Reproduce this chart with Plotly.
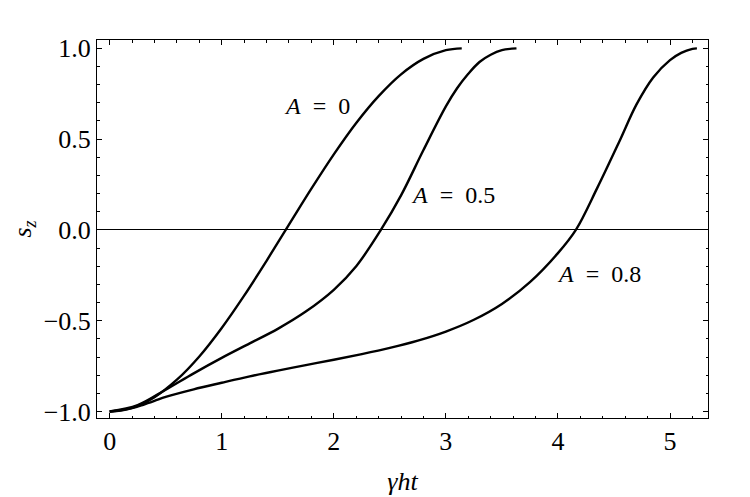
import plotly.graph_objects as go

# Data
t_a0 = [0, 0.2, 0.4, 0.6, 0.8, 1.0, 1.2, 1.4, 1.6, 1.8, 2.0, 2.2, 2.4, 2.6, 2.8, 3.0, 3.1416]
sz_a0 = [-1.0, -0.980, -0.921, -0.825, -0.697, -0.540, -0.362, -0.170, 0.029, 0.227,
         0.416, 0.589, 0.737, 0.857, 0.942, 0.990, 1.0]

t_a05 = [0, 0.25, 0.5, 0.75, 1.0, 1.25, 1.5, 1.75, 2.0, 2.2, 2.42, 2.6, 2.8, 3.0, 3.1, 3.2,
         3.3, 3.4, 3.5, 3.63]
sz_a05 = [-1.0, -0.965, -0.88, -0.79, -0.705, -0.625, -0.545, -0.45, -0.33, -0.2, 0.0,
          0.19, 0.44, 0.68, 0.78, 0.86, 0.925, 0.965, 0.99, 1.0]

t_a08 = [0, 0.1, 0.2, 0.3, 0.4, 0.5, 0.75, 1.0, 1.25, 1.5, 1.75, 2.0, 2.25, 2.5, 2.75, 3.0,
         3.25, 3.5, 3.75, 4.0, 4.16, 4.35, 4.55, 4.7, 4.85, 5.0, 5.1, 5.2, 5.24]
sz_a08 = [-1.0, -0.995, -0.982, -0.963, -0.942, -0.92, -0.878, -0.842, -0.807, -0.775,
          -0.745, -0.715, -0.684, -0.65, -0.61, -0.56, -0.495, -0.408, -0.288, -0.128,
          0.0, 0.23, 0.49, 0.69, 0.84, 0.935, 0.975, 0.997, 1.0]

labels = ["<i>A</i> &nbsp;= &nbsp;0", "<i>A</i> &nbsp;= &nbsp;0.5", "<i>A</i> &nbsp;= &nbsp;0.8"]
label_x = [1.85, 3.06, 4.37]
label_y = [0.68, 0.19, -0.245]

x_ticks = [0, 1, 2, 3, 4, 5]
y_ticks = [-1.0, -0.5, 0.0, 0.5, 1.0]

FONT = "Liberation Serif, Times New Roman, serif"

fig = go.Figure()
for xs, ys in [(t_a0, sz_a0), (t_a05, sz_a05), (t_a08, sz_a08)]:
    fig.add_trace(go.Scatter(x=xs, y=ys, mode="lines",
                             line=dict(color="black", width=2.4, shape="spline", smoothing=1.0),
                             showlegend=False, hoverinfo="skip"))

for txt, lx, ly in zip(labels, label_x, label_y):
    fig.add_annotation(x=lx, y=ly, text=txt, showarrow=False,
                       font=dict(family=FONT, size=24, color="black"))

# the page body adds an 8px offset at left/top; compensate in size/margins
fig.update_layout(
    width=742, height=489,
    margin=dict(l=89, r=42, t=32, b=79),
    paper_bgcolor="white", plot_bgcolor="white",
    font=dict(family=FONT, color="black"),
)
fig.update_xaxes(
    range=[-0.113, 5.339], tickvals=x_ticks, ticktext=[str(v) for v in x_ticks],
    automargin=False,
    showline=True, linecolor="black", linewidth=1, mirror="allticks",
    ticks="inside", ticklen=5, tickwidth=1, tickcolor="black",
    minor=dict(dtick=0.2, tick0=0, ticks="inside", ticklen=2.5, tickwidth=1, tickcolor="black"),
    showgrid=False, zeroline=False,
    tickfont=dict(family=FONT, size=26, color="black"),
    title=dict(text="<i>γht</i>", font=dict(family=FONT, size=26, color="black"), standoff=16),
)
fig.update_yaxes(
    range=[-1.036, 1.046], tickvals=y_ticks, tickformat=".1f",
    automargin=False,
    showline=True, linecolor="black", linewidth=1, mirror="allticks",
    ticks="inside", ticklen=5, tickwidth=1, tickcolor="black",
    minor=dict(dtick=0.1, tick0=0, ticks="inside", ticklen=2.5, tickwidth=1, tickcolor="black"),
    showgrid=False, zeroline=True, zerolinecolor="black", zerolinewidth=1,
    tickfont=dict(family=FONT, size=26, color="black"),
    title=dict(text="<i>s</i><sub><i>z</i></sub>", font=dict(family=FONT, size=26, color="black"), standoff=12),
)

fig.write_html("out.html")
